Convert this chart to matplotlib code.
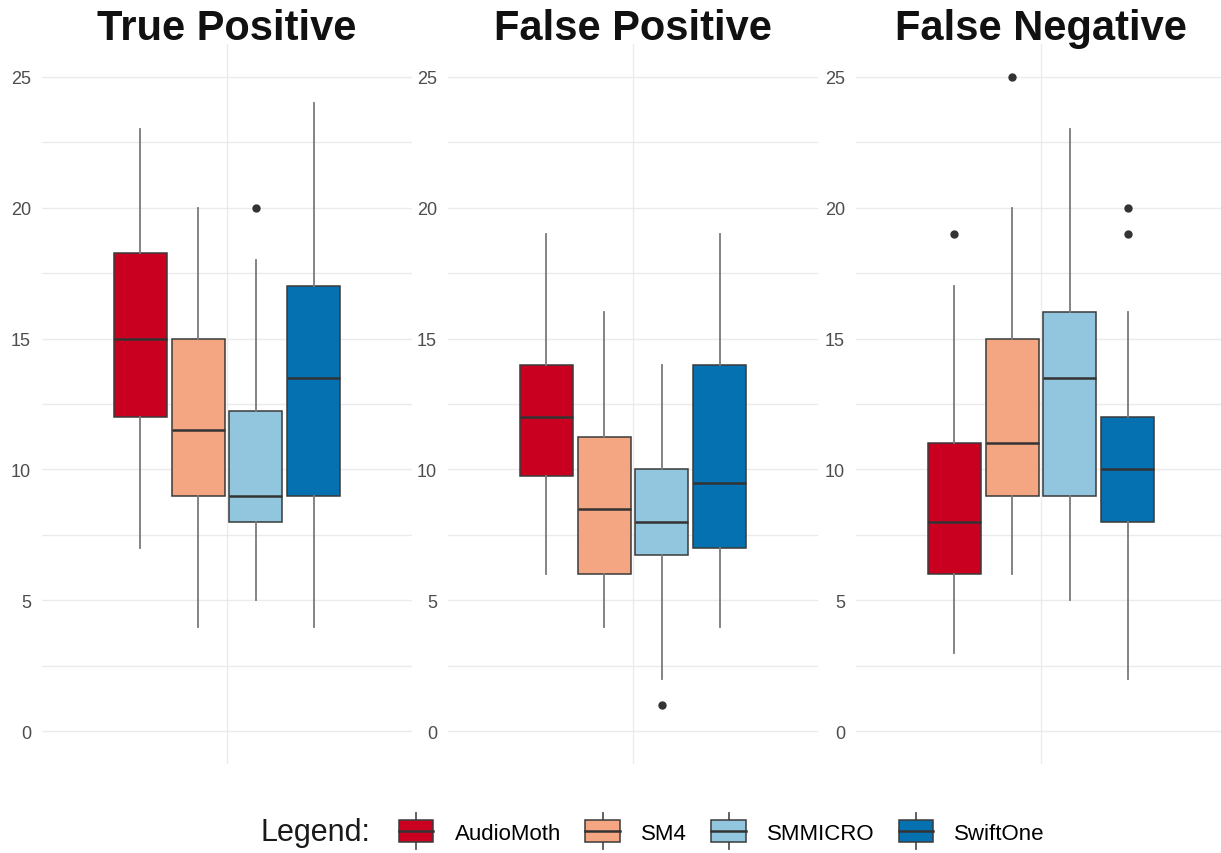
import matplotlib
matplotlib.use('Agg')
import matplotlib.pyplot as plt
from matplotlib.legend_handler import HandlerBase
from matplotlib.lines import Line2D
from matplotlib.patches import Rectangle

plt.rcParams['font.family'] = ['Liberation Sans', 'DejaVu Sans']

recorders = ['AudioMoth', 'SM4', 'SMMICRO', 'SwiftOne']
colors = ['#CA0020', '#F4A582', '#92C5DE', '#0571B0']
titles = ['True Positive', 'False Positive', 'False Negative']

# five-number summaries per recorder (whisker low, Q1, median, Q3, whisker high)
tp_low = [7, 4, 5, 4]
tp_q1 = [12, 9, 8, 9]
tp_med = [15, 11.5, 9, 13.5]
tp_q3 = [18.25, 15, 12.25, 17]
tp_high = [23, 20, 18, 24]
tp_out = [[], [], [20], []]

fp_low = [6, 4, 2, 4]
fp_q1 = [9.75, 6, 6.75, 7]
fp_med = [12, 8.5, 8, 9.5]
fp_q3 = [14, 11.25, 10, 14]
fp_high = [19, 16, 14, 19]
fp_out = [[], [], [1], []]

fn_low = [3, 6, 5, 2]
fn_q1 = [6, 9, 9, 8]
fn_med = [8, 11, 13.5, 10]
fn_q3 = [11, 15, 16, 12]
fn_high = [17, 20, 23, 16]
fn_out = [[19], [25], [], [20, 19]]

summaries = [
    (tp_low, tp_q1, tp_med, tp_q3, tp_high, tp_out),
    (fp_low, fp_q1, fp_med, fp_q3, fp_high, fp_out),
    (fn_low, fn_q1, fn_med, fn_q3, fn_high, fn_out),
]

W, H = 1221, 854
fig = plt.figure(figsize=(W / 100, H / 100), dpi=100)

# panel left edges in pixels
lefts = [42, 448, 856]
pw = 370
top, bottom = 45, 765

dodge = 0.1875
positions = [1 + dodge * (i - 1.5) for i in range(4)]

for left, title, summ in zip(lefts, titles, summaries):
    ax = fig.add_axes([left / W, 1 - bottom / H, pw / W, (bottom - top) / H])
    low, q1, med, q3, high, out = summ
    stats = []
    for i in range(4):
        stats.append(dict(whislo=low[i], q1=q1[i], med=med[i], q3=q3[i],
                          whishi=high[i], fliers=out[i], label=recorders[i]))
    bp = ax.bxp(stats, positions=positions, widths=0.172, patch_artist=True,
                showcaps=False,
                boxprops=dict(edgecolor='#3a3a3a', linewidth=1.1),
                medianprops=dict(color='#333333', linewidth=1.8),
                whiskerprops=dict(color='#7a7a7a', linewidth=1.3),
                flierprops=dict(marker='o', markerfacecolor='#333333',
                                markeredgecolor='#333333', markersize=5))
    for patch, c in zip(bp['boxes'], colors):
        patch.set_facecolor(c)

    ax.set_xlim(0.4, 1.6)
    ax.set_ylim(-1.25, 26.25)
    ax.set_yticks([0, 5, 10, 15, 20, 25])
    ax.set_yticks([2.5, 7.5, 12.5, 17.5, 22.5], minor=True)
    ax.set_xticks([1])
    ax.set_xticklabels([''])
    ax.grid(True, which='both', axis='y', color='#ebebeb', linewidth=1.0)
    ax.grid(True, which='major', axis='x', color='#ebebeb', linewidth=1.0)
    ax.set_axisbelow(True)
    ax.tick_params(which='both', length=0, labelsize=13, labelcolor='#4d4d4d', pad=8)
    for s in ax.spines.values():
        s.set_visible(False)
    # fixed y keeps the title from being pushed above the panel top
    ax.set_title(title, fontsize=30, fontweight='bold', color='#111111', y=1.007, pad=0)


class BoxKey(HandlerBase):
    def create_artists(self, legend, orig_handle, xdescent, ydescent,
                       width, height, fontsize, trans):
        x0, y0 = -xdescent, -ydescent
        cx = x0 + width / 2
        ext = 0.33 * height
        whisk = Line2D([cx, cx], [y0 - ext, y0 + height + ext], color='#555555',
                       linewidth=1.3, transform=trans)
        box = Rectangle((x0, y0), width, height, facecolor=orig_handle.get_facecolor(),
                        edgecolor='#3a3a3a', linewidth=1.1, transform=trans)
        mid = Line2D([x0, x0 + width], [y0 + height / 2] * 2, color='#333333',
                     linewidth=1.8, transform=trans)
        return [whisk, box, mid]


handles = [Rectangle((0, 0), 1, 1, facecolor=c) for c in colors]
fig.legend(handles, recorders, handler_map={Rectangle: BoxKey()},
           loc='center', bbox_to_anchor=(722 / W, 1 - 833 / H), ncol=4,
           frameon=False, fontsize=16, handlelength=1.55, handleheight=1.1,
           handletextpad=0.95, columnspacing=1.1, borderpad=0)
fig.text(370 / W, 1 - 833 / H, 'Legend:', fontsize=22, ha='right', va='center',
         color='#1a1a1a')

fig.savefig('out.png', dpi=100)
